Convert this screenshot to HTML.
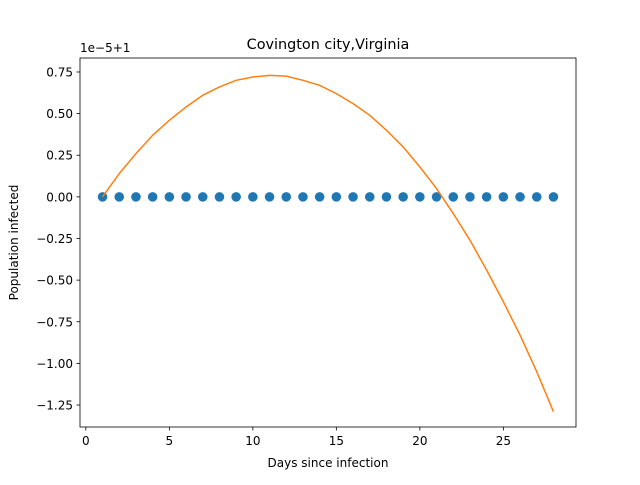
<!DOCTYPE html>
<html><head><meta charset="utf-8"><style>
body{margin:0;background:#fff}
svg text{font-family:"DejaVu Sans","Liberation Sans",sans-serif;fill:#000}
</style></head><body>
<svg id="chart" width="640" height="480" xmlns="http://www.w3.org/2000/svg"></svg>
<script>
const days=[1,2,3,4,5,6,7,8,9,10,11,12,13,14,15,16,17,18,19,20,21,22,23,24,25,26,27,28];
const actual=[0,0,0,0,0,0,0,0,0,0,0,0,0,0,0,0,0,0,0,0,0,0,0,0,0,0,0,0];
const fitted=[0.00,0.14,0.26,0.37,0.46,0.54,0.61,0.66,0.70,0.72,0.73,0.725,0.70,0.67,0.62,0.56,0.49,0.40,0.30,0.18,0.05,-0.10,-0.26,-0.44,-0.63,-0.83,-1.05,-1.29];
const xTicks=[0,5,10,15,20,25];
const yTicks=[0.75,0.50,0.25,0.00,-0.25,-0.50,-0.75,-1.00,-1.25];
const L=80,R=576,T=58,B=427;
const xmin=-0.35,xmax=29.35,ymin=-1.382,ymax=0.834;
const X=v=>L+(v-xmin)/(xmax-xmin)*(R-L);
const Y=v=>B-(v-ymin)/(ymax-ymin)*(B-T);
const svg=document.getElementById('chart');
const NS='http://www.w3.org/2000/svg';
function mk(tag,attrs,name,txt){const e=document.createElementNS(NS,tag);for(const k in attrs)e.setAttribute(k,attrs[k]);


if(txt!==undefined)e.textContent=txt;svg.appendChild(e);return e;}
mk('rect',{x:L,y:T,width:R-L,height:B-T,fill:'#fff',stroke:'#000','stroke-width':0.8},'plot-area');
xTicks.forEach(t=>{const x=X(t);mk('line',{x1:x,x2:x,y1:B,y2:B+3.5,stroke:'#000','stroke-width':0.8},'x-tick');
mk('text',{x:x,y:B+18,'text-anchor':'middle','font-size':12},'x-tick-label',String(t));});
yTicks.forEach(t=>{const y=Y(t);mk('line',{x1:L-3.5,x2:L,y1:y,y2:y,stroke:'#000','stroke-width':0.8},'y-tick');
mk('text',{x:L-7,y:y+4.5,'text-anchor':'end','font-size':12},'y-tick-label',t.toFixed(2).replace('-','−'));});
mk('text',{x:L,y:T-6,'font-size':12},'y-offset-label','1e−5+1');
let d='';fitted.forEach((v,i)=>{d+=(i?'L':'M')+X(days[i]).toFixed(2)+','+Y(v).toFixed(2);});
actual.forEach((v,i)=>mk('circle',{cx:X(days[i]),cy:Y(v),r:4.8,fill:'#1f77b4'},'actual-point'));
mk('path',{d:d,fill:'none',stroke:'#ff7f0e','stroke-width':1.5},'fitted-line');
mk('text',{x:(L+R)/2,y:T-9,'text-anchor':'middle','font-size':14.4},'chart-title','Covington city,Virginia');
mk('text',{x:(L+R)/2,y:467,'text-anchor':'middle','font-size':12},'x-axis-title','Days since infection');
mk('text',{x:18,y:(T+B)/2,'text-anchor':'middle','font-size':12,transform:'rotate(-90 18 '+(T+B)/2+')'},'y-axis-title','Population infected');
</script>
</body></html>
